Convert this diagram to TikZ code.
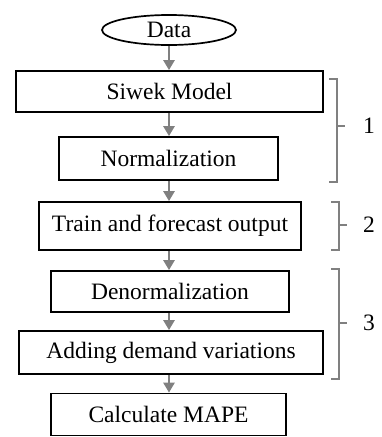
\documentclass[tikz,border=0pt]{standalone}
\usepackage{fontspec}
\setmainfont{Liberation Serif}
\usetikzlibrary{shapes.geometric, arrows.meta}

\tikzset{
  stage/.style={draw=black, line width=1.7pt, rectangle, inner sep=0pt, font=\fontsize{23.5}{27}\selectfont},
  flow/.style={draw=black!50, line width=2.4pt, -{Triangle[length=10pt, width=11pt]}},
  group/.style={draw=black!50, line width=2.4pt},
}

\begin{document}
\begin{tikzpicture}[x=1pt, y=-1pt]
    \useasboundingbox (0,0) rectangle (382,437);

    % steps of the procedure
    \node[draw=black, line width=1.7pt, ellipse, inner sep=0pt, minimum width=134pt, minimum height=30pt,
          font=\fontsize{23.5}{27}\selectfont] (data) at (169,30) {Data};
    \node[stage, minimum width=307pt, minimum height=41pt] (siwek) at (169.5,91.5) {Siwek Model};
    \node[stage, minimum width=219pt, minimum height=43pt] (norm) at (168.5,158.5) {Normalization};
    \node[stage, minimum width=262pt, minimum height=48pt] (train) at (170,226) {Train and forecast output};
    \node[stage, minimum width=238pt, minimum height=41pt] (denorm) at (170,291.5) {Denormalization};
    \node[stage, minimum width=304pt, minimum height=43pt] (adding) at (171,352.5) {Adding demand variations};
    \node[stage, minimum width=235pt, minimum height=42pt] (mape) at (168.5,414.5) {Calculate MAPE};

    % arrows between the steps
    \draw[flow] (data.south) -- (data.south |- siwek.north);
    \draw[flow] (data.south |- siwek.south) -- (data.south |- norm.north);
    \draw[flow] (data.south |- norm.south) -- (data.south |- train.north);
    \draw[flow] (data.south |- train.south) -- (data.south |- denorm.north);
    \draw[flow] (data.south |- denorm.south) -- (data.south |- adding.north);
    \draw[flow] (data.south |- adding.south) -- (data.south |- mape.north);

    % grouping brackets
    \draw[group] (329,79) -- (337,79) -- (337,182) -- (329,182);
    \draw[group] (337,126) -- (345,126);
    \node[font=\fontsize{23.5}{27}\selectfont] (one) at (369,126) {1};

    \draw[group] (331,202) -- (339,202) -- (339,250) -- (331,250);
    \draw[group] (339,225) -- (347,225);
    \node[font=\fontsize{23.5}{27}\selectfont] (two) at (369,225) {2};

    \draw[group] (331,269) -- (339,269) -- (339,379) -- (331,379);
    \draw[group] (339,323) -- (347,323);
    \node[font=\fontsize{23.5}{27}\selectfont] (three) at (369,323) {3};
\end{tikzpicture}
\end{document}
